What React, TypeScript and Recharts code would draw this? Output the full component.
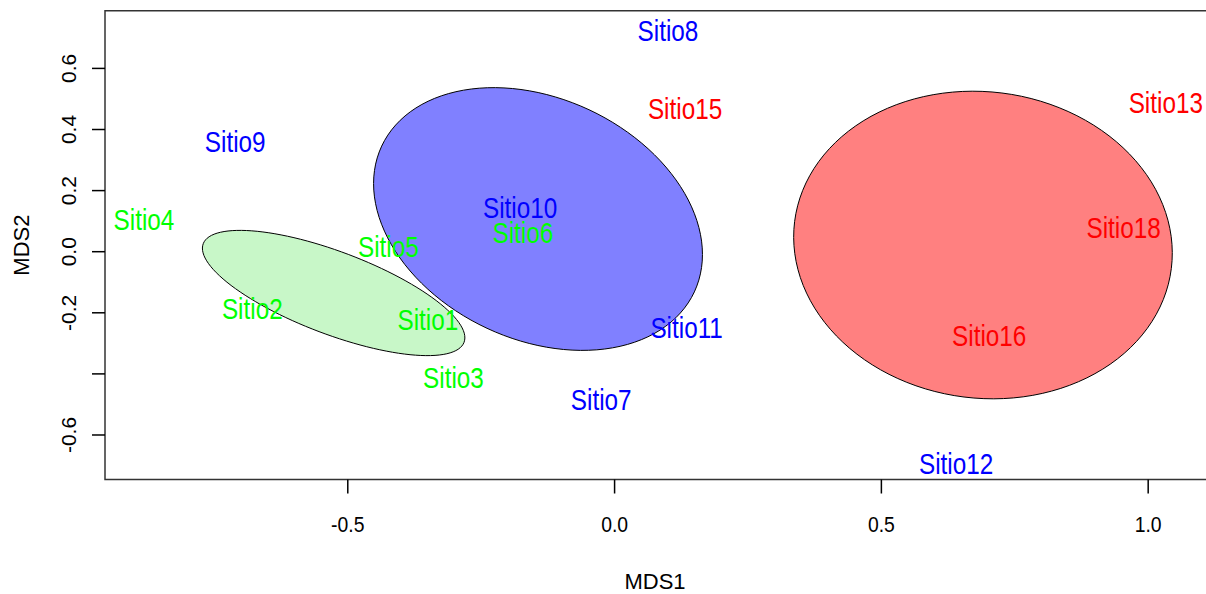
import React from 'react';
import { ScatterChart, Scatter, XAxis, YAxis, ReferenceArea } from 'recharts';

const FONT = '"Liberation Sans", Arial, sans-serif';

// axis setup
const xDomain = [-0.955, 1.1196];
const yDomain = [-0.7457, 0.7889];
const xTicks = [-0.5, 0, 0.5, 1];
const yTicks = [-0.6, -0.4, -0.2, 0, 0.2, 0.4, 0.6];
const yTickLabels = ['-0.6', '', '-0.2', '0.0', '0.2', '0.4', '0.6'];

// site scores (NMDS)
const greenSites = [
  { name: 'Sitio1', x: -0.35, y: -0.222 },
  { name: 'Sitio2', x: -0.679, y: -0.184 },
  { name: 'Sitio3', x: -0.302, y: -0.412 },
  { name: 'Sitio4', x: -0.882, y: 0.107 },
  { name: 'Sitio5', x: -0.424, y: 0.019 },
  { name: 'Sitio6', x: -0.172, y: 0.063 },
];
const blueSites = [
  { name: 'Sitio7', x: -0.025, y: -0.482 },
  { name: 'Sitio8', x: 0.1, y: 0.723 },
  { name: 'Sitio9', x: -0.711, y: 0.362 },
  { name: 'Sitio10', x: -0.177, y: 0.145 },
  { name: 'Sitio11', x: 0.135, y: -0.248 },
  { name: 'Sitio12', x: 0.64, y: -0.692 },
];
const redSites = [
  { name: 'Sitio13', x: 1.033, y: 0.488 },
  { name: 'Sitio15', x: 0.132, y: 0.468 },
  { name: 'Sitio16', x: 0.702, y: -0.275 },
  { name: 'Sitio18', x: 0.954, y: 0.079 },
];

// ellipses: centre, end of first half-axis, end of second half-axis
const greenEllipse = [
  { x: -0.5265, y: -0.1352 },
  { x: -0.2821, y: -0.2966 },
  { x: -0.5539, y: -0.2616 },
];
const blueEllipse = [
  { x: -0.1435, y: 0.107 },
  { x: 0.1495, y: -0.1316 },
  { x: -0.239, y: -0.2508 },
];
const redEllipse = [
  { x: 0.6904, y: 0.0219 },
  { x: 1.0434, y: -0.0549 },
  { x: 0.6549, y: -0.4757 },
];

const Empty = () => <g />;

// draws the ellipse from the three projected points
const ellipseLine = (fill: string) => (props: any) => {
  const pts = props.points;
  if (!pts || pts.length < 3) return <g />;
  const [c, a, b] = pts;
  const n = 120;
  let d = '';
  for (let i = 0; i <= n; i++) {
    const t = (2 * Math.PI * i) / n;
    const px = c.x + Math.cos(t) * (a.x - c.x) + Math.sin(t) * (b.x - c.x);
    const py = c.y + Math.cos(t) * (a.y - c.y) + Math.sin(t) * (b.y - c.y);
    d += (i === 0 ? 'M' : 'L') + px.toFixed(2) + ',' + py.toFixed(2);
  }
  return <path d={d + 'Z'} fill={fill} stroke="#000" strokeWidth={1} />;
};

const siteLabel = (color: string) => (props: any) => {
  const { cx, cy, payload } = props;
  return (
    <text
      transform={`translate(${cx},${cy}) scale(0.81,1)`}
      textAnchor="middle"
      dy="0.355em"
      fontSize={30}
      fill={color}
      fontFamily={FONT}
    >
      {payload.name}
    </text>
  );
};

const XTick = (props: any) => {
  const { x, y, payload } = props;
  return (
    <text
      transform={`translate(${x},${y + 29}) scale(0.88,1)`}
      textAnchor="middle"
      dy="0.355em"
      fontSize={22}
      fill="#000"
      fontFamily={FONT}
    >
      {Number(payload.value).toFixed(1)}
    </text>
  );
};

const YTick = (props: any) => {
  const { x, y, payload } = props;
  const label = yTickLabels[yTicks.indexOf(payload.value)];
  if (!label) return <g />;
  const cx = x - 21.7;
  return (
    <text
      x={cx}
      y={y}
      transform={`rotate(-90, ${cx}, ${y})`}
      textAnchor="middle"
      dy="0.355em"
      fontSize={21}
      fill="#000"
      fontFamily={FONT}
    >
      {label}
    </text>
  );
};

export default function App() {
  return (
    <div
      style={{
        position: 'absolute',
        left: 0,
        top: 0,
        width: 1206,
        height: 594,
        overflow: 'hidden',
        background: '#fff',
        fontFamily: FONT,
      }}
    >
      <ScatterChart width={1212} height={594} margin={{ top: 10.7, right: 0, bottom: 0, left: 0 }}>
        <XAxis
          type="number"
          dataKey="x"
          domain={xDomain}
          ticks={xTicks}
          interval={0}
          allowDataOverflow
          height={114.5}
          tickSize={14}
          tick={XTick}
          axisLine={false}
          tickLine={{ stroke: '#000', strokeWidth: 1.5 }}
          label={{ value: 'MDS1', position: 'insideBottom', offset: 5, dx: -3.5, fontSize: 22, fill: '#000' }}
        />
        <YAxis
          type="number"
          dataKey="y"
          domain={yDomain}
          ticks={yTicks}
          interval={0}
          allowDataOverflow
          width={105}
          tickSize={13}
          tick={YTick}
          axisLine={false}
          tickLine={{ stroke: '#000', strokeWidth: 1.5 }}
          label={{
            value: 'MDS2',
            angle: -90,
            position: 'insideLeft',
            offset: 21,
            fontSize: 22,
            fill: '#000',
            style: { textAnchor: 'middle' },
          }}
        />
        <ReferenceArea
          x1={xDomain[0]}
          x2={xDomain[1]}
          y1={yDomain[0]}
          y2={yDomain[1]}
          fill="none"
          stroke="#333"
          strokeWidth={1.5}
        />
        <Scatter data={greenEllipse} shape={Empty} line={ellipseLine('#C8F7C8')} isAnimationActive={false} />
        <Scatter data={blueEllipse} shape={Empty} line={ellipseLine('#8080FF')} isAnimationActive={false} />
        <Scatter data={redEllipse} shape={Empty} line={ellipseLine('#FF8080')} isAnimationActive={false} />
        <Scatter data={greenSites} shape={siteLabel('#00FF00')} isAnimationActive={false} />
        <Scatter data={blueSites} shape={siteLabel('#0000FF')} isAnimationActive={false} />
        <Scatter data={redSites} shape={siteLabel('#FF0000')} isAnimationActive={false} />
      </ScatterChart>
    </div>
  );
}
